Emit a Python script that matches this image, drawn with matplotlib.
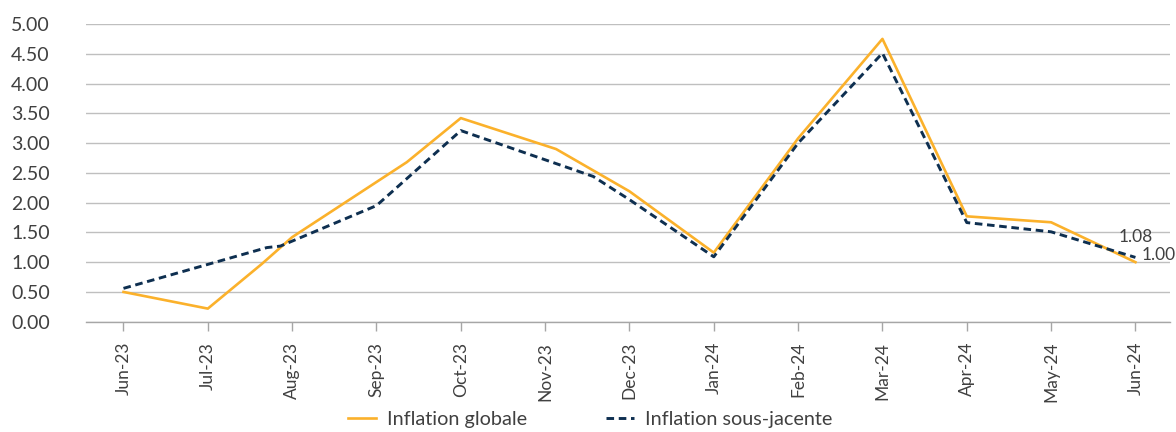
import matplotlib
matplotlib.use("Agg")
import matplotlib.pyplot as plt

# month labels on the x axis
months = ["Jun-23", "Jul-23", "Aug-23", "Sep-23", "Oct-23", "Nov-23", "Dec-23",
          "Jan-24", "Feb-24", "Mar-24", "Apr-24", "May-24", "Jun-24"]

# headline inflation (x = months since Jun-23, some readings fall between months)
glob_x = [0, 1, 1.64, 2, 3.36, 4, 5.13, 6, 7, 8, 9, 10, 11, 12]
glob_y = [0.50, 0.22, 0.97, 1.42, 2.68, 3.42, 2.90, 2.19, 1.16, 3.08, 4.75, 1.77, 1.67, 1.00]

# underlying inflation
core_x = [0, 1.70, 1.86, 3, 4, 5.57, 6, 7, 8, 9, 10, 11, 12]
core_y = [0.56, 1.245, 1.27, 1.95, 3.21, 2.44, 2.05, 1.09, 3.00, 4.51, 1.665, 1.51, 1.08]

orange = "#FBB12B"
navy = "#0E2F50"
txt = "#404040"

plt.rcParams['font.family'] = ['Lato', 'DejaVu Sans']

fig = plt.figure(figsize=(11.76, 4.32), dpi=100)
ax = fig.add_axes([0.0731, 0.2553, 0.9218, 0.6891])

ax.plot(glob_x, glob_y, color=orange, lw=1.9, label="Inflation globale", zorder=3)
ax.plot(core_x, core_y, color=navy, lw=2.1, linestyle=(0, (2.6, 1.6)),
        dash_capstyle='butt', label="Inflation sous-jacente", zorder=4)

ax.annotate("%.2f" % core_y[-1], (core_x[-1], core_y[-1]), xytext=(0.5, 15),
            textcoords='offset points', fontsize=12.5, color=txt, ha='center', va='center')
ax.annotate("%.2f" % glob_y[-1], (glob_x[-1], glob_y[-1]), xytext=(17, 5),
            textcoords='offset points', fontsize=12.5, color=txt, ha='center', va='center')

ax.set_xlim(-0.445, 12.41)
ax.set_ylim(0, 5)
ax.set_yticks([i * 0.5 for i in range(11)])
ax.set_yticklabels(["%.2f" % (i * 0.5) for i in range(11)])
ax.set_xticks(range(len(months)))
ax.set_xticklabels(months, rotation=90)

ax.grid(axis='y', color='#BFBFBF', lw=1)
ax.set_axisbelow(True)
for s in ['top', 'right', 'left']:
    ax.spines[s].set_visible(False)
ax.spines['bottom'].set_color('#A6A6A6')
ax.spines['bottom'].set_linewidth(1)
ax.tick_params(axis='y', length=0, pad=26, labelsize=14, labelcolor=txt)
ax.tick_params(axis='x', length=6.5, width=1, color='#A6A6A6', pad=8,
               labelsize=12.5, labelcolor=txt)

fig.legend(loc='center', bbox_to_anchor=(0.502, 0.03), ncol=2, frameon=False,
           fontsize=14.3, labelcolor=txt, handlelength=1.4, handletextpad=0.55,
           columnspacing=4.0)

fig.savefig("out.png", dpi=100)
